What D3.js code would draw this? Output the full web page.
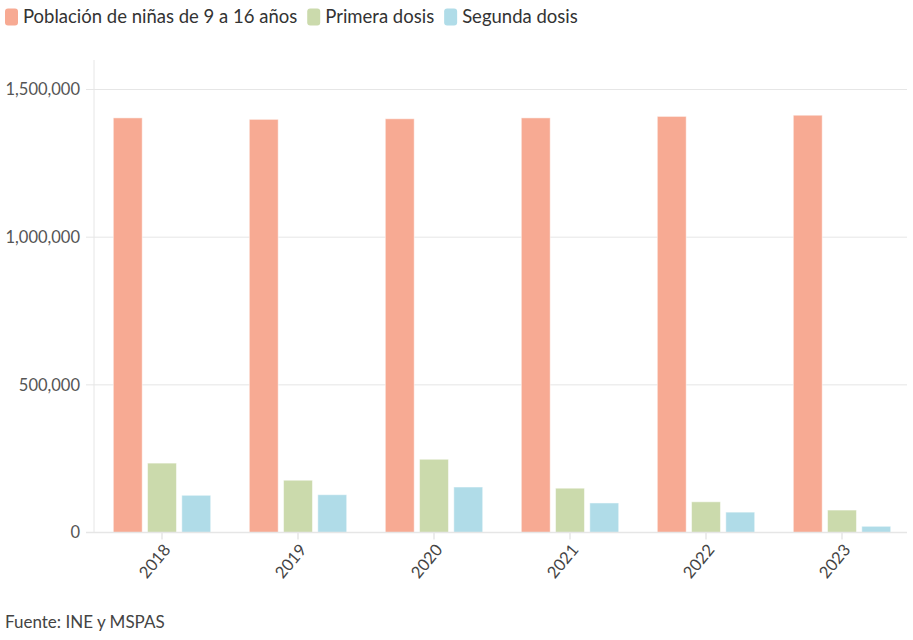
<!DOCTYPE html>
<html><head><meta charset="utf-8">
<script src="https://cdn.jsdelivr.net/npm/d3@7"></script>
<style>
body{margin:0;background:#fff;}
text{font-family:"Source Sans Pro","Lato","Noto Sans",sans-serif;}
</style></head>
<body>
<svg id="c" width="913" height="640"></svg>
<script>
const years = ["2018","2019","2020","2021","2022","2023"];
const seriesNames = ["Población de niñas de 9 a 16 años","Primera dosis","Segunda dosis"];
const poblacion = [1404000,1399000,1401000,1404000,1409000,1413000];
const primera = [235000,177000,248000,150000,104000,76000];
const segunda = [126000,128000,154000,100000,69000,21000];
const yTicks = [0,500000,1000000,1500000];
const colors = ["#f7aa93","#cbdaac","#b0dce8"];
const source = "Fuente: INE y MSPAS";

(function(){
const series = [poblacion, primera, segunda];
const svg = d3.select("#c");
const mLeft = 94, mRight = 910, mTop = 60, mBottom = 532.5;

const x0 = d3.scaleBand().domain(years).range([mLeft, mRight]).paddingInner(0.2838).paddingOuter(0.1419);
const x1 = d3.scaleBand().domain(d3.range(3)).range([0, x0.bandwidth()]).paddingInner(0.156);
const y = d3.scaleLinear().domain([0,1600000]).range([mBottom, mTop]);

svg.append("g").selectAll("line").data(yTicks.filter(d=>d>0)).join("line")
  .attr("x1", 86).attr("x2", 907).attr("y1", d=>y(d)).attr("y2", d=>y(d))
  .attr("stroke", "#e6e6e6").attr("stroke-width", 1);
svg.append("line").attr("x1", mLeft).attr("x2", mLeft).attr("y1", mTop).attr("y2", mBottom)
  .attr("stroke", "#e6e6e6");

const fmt = d3.format(",");
svg.append("g").selectAll("text").data(yTicks).join("text")
  .attr("x", 80).attr("y", d=>y(d)).attr("dy","0.35em")
  .attr("text-anchor","end").attr("fill","#555").attr("font-size", 16.5)
  .text(d=>fmt(d));

const g = svg.append("g");
years.forEach((yr, i) => {
  series.forEach((s, j) => {
    g.append("rect")
      .attr("x", x0(yr) + x1(j))
      .attr("y", y(s[i]))
      .attr("width", x1.bandwidth())
      .attr("height", mBottom - y(s[i]))
      .attr("fill", colors[j])
      .attr("stroke", "#fff").attr("stroke-opacity", 0.5).attr("stroke-width", 1);
  });
});

svg.append("line").attr("x1", 86).attr("x2", 907).attr("y1", mBottom).attr("y2", mBottom)
  .attr("stroke", "#e6e6e6").attr("stroke-width", 1.5);
const xa = svg.append("g");
years.forEach(yr => {
  const cx = x0(yr) + x0.bandwidth()/2;
  xa.append("line").attr("x1", cx).attr("x2", cx).attr("y1", mBottom).attr("y2", mBottom+7)
    .attr("stroke", "#e6e6e6").attr("stroke-width", 1.5);
  xa.append("text").attr("transform", `translate(${cx+5},${mBottom+14}) rotate(-50)`)
    .attr("text-anchor","end").attr("dy","0.35em")
    .attr("fill","#444").attr("font-size", 16.5).text(yr);
});

const leg = svg.append("g");
let lx = 5;
seriesNames.forEach((n, j) => {
  leg.append("rect").attr("x", lx).attr("y", 8.5).attr("width", 13).attr("height", 17).attr("rx", 3)
    .attr("fill", colors[j]);
  const t = leg.append("text").attr("x", lx + 18).attr("y", 17).attr("dy","0.35em")
    .attr("fill","#333").attr("font-size", 18.5).text(n);
  lx += 18 + t.node().getComputedTextLength() + 10;
});

svg.append("text").attr("x", 5).attr("y", 622).attr("dy","0.35em")
  .attr("fill","#444").attr("font-size", 17).text(source);
})();
</script>
</body></html>
